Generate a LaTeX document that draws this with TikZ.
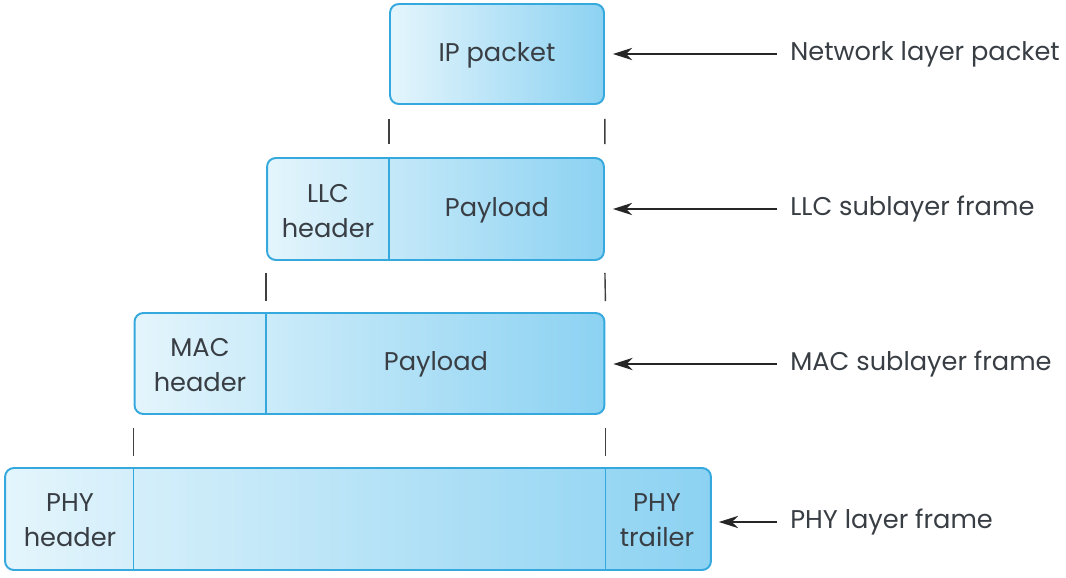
\documentclass[tikz,border=0pt]{standalone}
\usepackage{fontspec}
\setmainfont{Poppins}
\usepackage{xcolor}
\usetikzlibrary{positioning, arrows.meta}

\definecolor{frameline}{HTML}{35A9DD}
\definecolor{lightfill}{HTML}{E4F5FC}
\definecolor{darkfill}{HTML}{8CD2F2}
\definecolor{inktext}{HTML}{383E44}

\begin{document}
\begin{tikzpicture}[
    x=0.02cm, y=-0.02cm,
    every node/.style={font=\fontsize{14.6}{20}\selectfont, text=inktext, align=center},
    frame/.style={rectangle, draw=frameline, line width=1.1pt, rounded corners=5pt, left color=lightfill, right color=darkfill, inner sep=0pt},
    divider/.style={draw=frameline, line width=0.7pt},
    tick/.style={draw=black!75, line width=0.8pt},
    pointer/.style={-{Stealth[length=11pt, width=7pt]}, line width=0.7pt, black!85},
    caption/.style={anchor=west, inner sep=0pt}
]
\useasboundingbox (0,0) rectangle (1066,578);

% frames
\node [frame, minimum width=4.28cm, minimum height=2.00cm] (ip) at (497,54) {};
\node [frame, minimum width=6.74cm, minimum height=2.04cm] (llc) at (435.5,209) {};
\node [frame, minimum width=9.40cm, minimum height=2.02cm] (mac) at (369.5,363.5) {};
\node [frame, minimum width=14.12cm, minimum height=2.04cm] (phy) at (358,519) {};

% field borders
\draw [divider] (ip.south west |- llc.north) -- (ip.south west |- llc.south);
\draw [divider] (llc.south west |- mac.north) -- (llc.south west |- mac.south);
\draw [divider] (mac.south west |- phy.north) -- (mac.south west |- phy.south);
\draw [divider] (mac.south east |- phy.north) -- (mac.south east |- phy.south);

% field texts
\node (iptext) at (497,55) {IP packet};
\node (llchdr) at (328,211) {LLC\\header};
\node (llcpay) at (497,210) {Payload};
\node (machdr) at (200,365) {MAC\\header};
\node (macpay) at (436,364) {Payload};
\node (phyhdr) at (70,520) {PHY\\header};
\node (phytrl) at (657,520) {PHY\\trailer};

% alignment ticks
\draw [tick] ([yshift=-0.28cm]ip.south west) -- ([yshift=0.26cm]llc.north west -| ip.south west);
\draw [tick] ([yshift=-0.28cm]ip.south east) -- ([yshift=0.26cm]llc.north east);
\draw [tick] ([yshift=-0.24cm]llc.south west) -- ([yshift=0.22cm]mac.north west -| llc.south west);
\draw [tick] ([yshift=-0.24cm]llc.south east) -- ([yshift=0.22cm]mac.north east);
\draw [tick] ([yshift=-0.26cm]mac.south west) -- ([yshift=0.22cm]phy.north west -| mac.south west);
\draw [tick] ([yshift=-0.26cm]mac.south east) -- ([yshift=0.22cm]phy.north west -| mac.south east);

% layer captions
\node [caption] (ipcap) at (790,54) {Network layer packet};
\node [caption] (llccap) at (790,209) {LLC sublayer frame};
\node [caption] (maccap) at (790,364) {MAC sublayer frame};
\node [caption] (phycap) at (790,522) {PHY layer frame};

\draw [pointer] ([xshift=-0.26cm]ipcap.west) -- ([xshift=0.16cm]ip.east |- ipcap.west);
\draw [pointer] ([xshift=-0.26cm]llccap.west) -- ([xshift=0.16cm]llc.east |- llccap.west);
\draw [pointer] ([xshift=-0.26cm]maccap.west) -- ([xshift=0.16cm]mac.east |- maccap.west);
\draw [pointer] ([xshift=-0.26cm]phycap.west) -- ([xshift=0.14cm]phy.east |- phycap.west);

\end{tikzpicture}
\end{document}
